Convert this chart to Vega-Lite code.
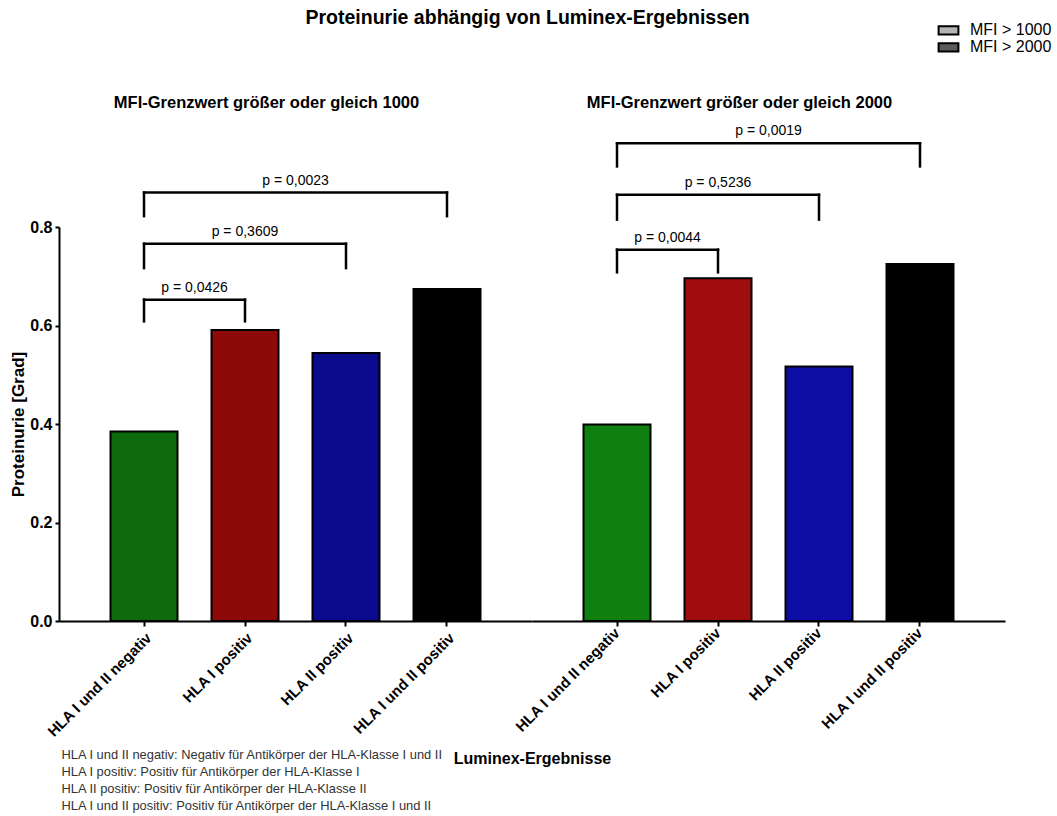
{
  "$schema": "https://vega.github.io/schema/vega-lite/v6.json",
  "background": "white",
  "padding": {"left": 9, "top": 8, "right": 0, "bottom": 0},
  "title": {
    "text": "Proteinurie abhängig von Luminex-Ergebnissen",
    "font": "Liberation Sans",
    "fontSize": 19.5,
    "fontWeight": "bold",
    "color": "black",
    "anchor": "middle",
    "dx": -3,
    "offset": -6.3
  },
  "config": {
    "font": "Liberation Sans",
    "view": {"stroke": null},
    "axis": {
      "labelFont": "Liberation Sans",
      "titleFont": "Liberation Sans",
      "labelColor": "black",
      "titleColor": "black",
      "domainColor": "black",
      "tickColor": "black",
      "domainWidth": 2,
      "tickWidth": 2,
      "grid": false,
      "labelFontWeight": "bold",
      "titleFontWeight": "bold"
    }
  },
  "datasets": {
    "balken": [
      {"MFI": "MFI > 1000", "Ergebnis": "HLA I und II negativ", "Proteinurie": 0.385},
      {"MFI": "MFI > 1000", "Ergebnis": "HLA I positiv", "Proteinurie": 0.591},
      {"MFI": "MFI > 1000", "Ergebnis": "HLA II positiv", "Proteinurie": 0.544},
      {"MFI": "MFI > 1000", "Ergebnis": "HLA I und II positiv", "Proteinurie": 0.674},
      {"MFI": "MFI > 2000", "Ergebnis": "HLA I und II negativ", "Proteinurie": 0.399},
      {"MFI": "MFI > 2000", "Ergebnis": "HLA I positiv", "Proteinurie": 0.696},
      {"MFI": "MFI > 2000", "Ergebnis": "HLA II positiv", "Proteinurie": 0.517},
      {"MFI": "MFI > 2000", "Ergebnis": "HLA I und II positiv", "Proteinurie": 0.725}
    ],
    "klammern": [
      {"MFI": "MFI > 1000", "von": "HLA I und II negativ", "bis": "HLA I positiv", "unten": 0.6085, "oben": 0.6525, "p": "p = 0,0426"},
      {"MFI": "MFI > 1000", "von": "HLA I und II negativ", "bis": "HLA II positiv", "unten": 0.7165, "oben": 0.766, "p": "p = 0,3609"},
      {"MFI": "MFI > 1000", "von": "HLA I und II negativ", "bis": "HLA I und II positiv", "unten": 0.822, "oben": 0.87, "p": "p = 0,0023"},
      {"MFI": "MFI > 2000", "von": "HLA I und II negativ", "bis": "HLA I positiv", "unten": 0.708, "oben": 0.754, "p": "p = 0,0044"},
      {"MFI": "MFI > 2000", "von": "HLA I und II negativ", "bis": "HLA II positiv", "unten": 0.815, "oben": 0.8655, "p": "p = 0,5236"},
      {"MFI": "MFI > 2000", "von": "HLA I und II negativ", "bis": "HLA I und II positiv", "unten": 0.923, "oben": 0.97, "p": "p = 0,0019"}
    ],
    "untertitel": [
      {"MFI": "MFI > 1000", "Titel": "MFI-Grenzwert größer oder gleich 1000"},
      {"MFI": "MFI > 2000", "Titel": "MFI-Grenzwert größer oder gleich 2000"}
    ]
  },
  "spacing": 0,
  "bounds": "flush",
  "resolve": {"scale": {"fill": "independent"}},
  "hconcat": [
    {
      "width": 473,
      "height": 394,
      "layer": [
        {
          "data": {"name": "balken"},
          "transform": [{"filter": "datum.MFI === 'MFI > 1000'"}],
          "mark": {"type": "bar", "stroke": "black", "strokeWidth": 2},
          "encoding": {
            "x": {
              "field": "Ergebnis", "type": "nominal",
              "scale": {"domain": ["HLA I und II negativ", "HLA I positiv", "HLA II positiv", "HLA I und II positiv"], "paddingInner": 0.3366, "paddingOuter": 0.51},
              "axis": {
                "labelAngle": -45, "labelFontSize": 15, "tickSize": 5, "labelPadding": 4,
                "title": [
                  "HLA I und II negativ: Negativ für Antikörper der HLA-Klasse I und II",
                  "HLA I positiv: Positiv für Antikörper der HLA-Klasse I",
                  "HLA II positiv: Positiv für Antikörper der HLA-Klasse II",
                  "HLA I und II positiv: Positiv für Antikörper der HLA-Klasse I und II"
                ],
                "titleFontSize": 12.9, "titleFontWeight": "normal", "titleColor": "#333333",
                "titleAlign": "left", "titleBaseline": "top", "titleX": 2, "titleY": 127, "titleLineHeight": 17.3
              }
            },
            "y": {
              "field": "Proteinurie", "type": "quantitative",
              "scale": {"domain": [0, 0.8], "nice": false},
              "axis": {
                "title": "Proteinurie [Grad]", "titleFontSize": 17, "titlePadding": 2,
                "values": [0, 0.2, 0.4, 0.6, 0.8], "format": ".1f",
                "labelFontSize": 16, "tickSize": 4, "labelPadding": 3
              }
            },
            "fill": {
              "field": "Ergebnis", "type": "nominal",
              "scale": {"domain": ["HLA I und II negativ", "HLA I positiv", "HLA II positiv", "HLA I und II positiv"], "range": ["#0d6b0d", "#8c0a0a", "#0a0a8c", "#000000"]},
              "legend": null
            }
          }
        },
        {
          "data": {"name": "klammern"},
          "transform": [{"filter": "datum.MFI === 'MFI > 1000'"}],
          "mark": {"type": "rule", "strokeWidth": 2.5, "strokeCap": "square", "color": "black"},
          "encoding": {
            "x": {"field": "von", "type": "nominal", "scale": {"domain": ["HLA I und II negativ", "HLA I positiv", "HLA II positiv", "HLA I und II positiv"], "paddingInner": 0.3366, "paddingOuter": 0.51}},
            "y": {"field": "unten", "type": "quantitative", "scale": {"domain": [0, 0.8], "nice": false}},
            "y2": {"field": "oben"}
          }
        },
        {
          "data": {"name": "klammern"},
          "transform": [{"filter": "datum.MFI === 'MFI > 1000'"}],
          "mark": {"type": "rule", "strokeWidth": 2.5, "strokeCap": "square", "color": "black"},
          "encoding": {
            "x": {"field": "bis", "type": "nominal", "scale": {"domain": ["HLA I und II negativ", "HLA I positiv", "HLA II positiv", "HLA I und II positiv"], "paddingInner": 0.3366, "paddingOuter": 0.51}},
            "y": {"field": "unten", "type": "quantitative", "scale": {"domain": [0, 0.8], "nice": false}},
            "y2": {"field": "oben"}
          }
        },
        {
          "data": {"name": "klammern"},
          "transform": [{"filter": "datum.MFI === 'MFI > 1000'"}],
          "mark": {"type": "rule", "strokeWidth": 2.5, "strokeCap": "square", "color": "black"},
          "encoding": {
            "x": {"field": "von", "type": "nominal", "scale": {"domain": ["HLA I und II negativ", "HLA I positiv", "HLA II positiv", "HLA I und II positiv"], "paddingInner": 0.3366, "paddingOuter": 0.51}},
            "x2": {"field": "bis"},
            "y": {"field": "oben", "type": "quantitative", "scale": {"domain": [0, 0.8], "nice": false}}
          }
        },
        {
          "data": {"name": "klammern"},
          "transform": [{"filter": "datum.MFI === 'MFI > 1000' && datum.bis === 'HLA I positiv'"}],
          "mark": {"type": "text", "fontSize": 14, "color": "black", "align": "center", "baseline": "middle", "dy": -12},
          "encoding": {
            "x": {"field": "von", "type": "nominal", "bandPosition": 1.254, "scale": {"domain": ["HLA I und II negativ", "HLA I positiv", "HLA II positiv", "HLA I und II positiv"], "paddingInner": 0.3366, "paddingOuter": 0.51}},
            "y": {"field": "oben", "type": "quantitative", "scale": {"domain": [0, 0.8], "nice": false}},
            "text": {"field": "p"}
          }
        },
        {
          "data": {"name": "klammern"},
          "transform": [{"filter": "datum.MFI === 'MFI > 1000' && datum.bis === 'HLA II positiv'"}],
          "mark": {"type": "text", "fontSize": 14, "color": "black", "align": "center", "baseline": "middle", "dy": -12},
          "encoding": {
            "x": {"field": "von", "type": "nominal", "bandPosition": 2.007, "scale": {"domain": ["HLA I und II negativ", "HLA I positiv", "HLA II positiv", "HLA I und II positiv"], "paddingInner": 0.3366, "paddingOuter": 0.51}},
            "y": {"field": "oben", "type": "quantitative", "scale": {"domain": [0, 0.8], "nice": false}},
            "text": {"field": "p"}
          }
        },
        {
          "data": {"name": "klammern"},
          "transform": [{"filter": "datum.MFI === 'MFI > 1000' && datum.bis === 'HLA I und II positiv'"}],
          "mark": {"type": "text", "fontSize": 14, "color": "black", "align": "center", "baseline": "middle", "dy": -12},
          "encoding": {
            "x": {"field": "von", "type": "nominal", "bandPosition": 2.761, "scale": {"domain": ["HLA I und II negativ", "HLA I positiv", "HLA II positiv", "HLA I und II positiv"], "paddingInner": 0.3366, "paddingOuter": 0.51}},
            "y": {"field": "oben", "type": "quantitative", "scale": {"domain": [0, 0.8], "nice": false}},
            "text": {"field": "p"}
          }
        },
        {
          "data": {"name": "untertitel"},
          "transform": [{"filter": "datum.MFI === 'MFI > 1000'"}],
          "mark": {"type": "text", "fontSize": 16.5, "fontWeight": "bold", "color": "black", "align": "left", "baseline": "middle"},
          "encoding": {
            "x": {"datum": "HLA I und II negativ", "type": "nominal", "bandPosition": 0.05, "scale": {"domain": ["HLA I und II negativ", "HLA I positiv", "HLA II positiv", "HLA I und II positiv"], "paddingInner": 0.3366, "paddingOuter": 0.51}},
            "y": {"datum": 1.052, "type": "quantitative", "scale": {"domain": [0, 0.8], "nice": false}},
            "text": {"field": "Titel"}
          }
        }
      ]
    },
    {
      "width": 473,
      "height": 394,
      "resolve": {"scale": {"fill": "independent"}},
      "layer": [
        {
          "data": {"name": "balken"},
          "transform": [{"filter": "datum.MFI === 'MFI > 2000'"}],
          "mark": {"type": "bar"},
          "encoding": {
            "x": {"field": "Ergebnis", "type": "nominal", "scale": {"domain": ["HLA I und II negativ", "HLA I positiv", "HLA II positiv", "HLA I und II positiv"], "paddingInner": 0.3366, "paddingOuter": 0.51}},
            "y": {"field": "Proteinurie", "type": "quantitative", "scale": {"domain": [0, 0.8], "nice": false}, "axis": null},
            "fill": {
              "field": "MFI", "type": "nominal",
              "scale": {"domain": ["MFI > 1000", "MFI > 2000"], "range": ["#b4b4b4", "#5c5c5c"]},
              "legend": {
                "title": null, "orient": "none", "legendX": 408.5, "legendY": -204.6,
                "symbolType": "M-1.8,-0.75H1.8V0.75H-1.8Z", "symbolSize": 121,
                "symbolStrokeColor": "black", "symbolStrokeWidth": 2,
                "labelFont": "Liberation Sans", "labelFontSize": 16, "labelColor": "black",
                "labelOffset": 13.5, "rowPadding": -2.5
              }
            }
          }
        },
        {
          "data": {"name": "balken"},
          "transform": [{"filter": "datum.MFI === 'MFI > 2000'"}],
          "mark": {"type": "bar", "stroke": "black", "strokeWidth": 2},
          "encoding": {
            "x": {
              "field": "Ergebnis", "type": "nominal",
              "scale": {"domain": ["HLA I und II negativ", "HLA I positiv", "HLA II positiv", "HLA I und II positiv"], "paddingInner": 0.3366, "paddingOuter": 0.51},
              "axis": {
                "labelAngle": -45, "labelFontSize": 15, "tickSize": 5, "labelPadding": 4,
                "title": "Luminex-Ergebnisse", "titleFontSize": 16,
                "titleAlign": "center", "titleBaseline": "middle", "titleX": 0, "titleY": 137
              }
            },
            "y": {"field": "Proteinurie", "type": "quantitative", "scale": {"domain": [0, 0.8], "nice": false}, "axis": null},
            "fill": {
              "field": "Ergebnis", "type": "nominal",
              "scale": {"domain": ["HLA I und II negativ", "HLA I positiv", "HLA II positiv", "HLA I und II positiv"], "range": ["#0f800f", "#a00d0d", "#0d0da6", "#000000"]},
              "legend": null
            }
          }
        },
        {
          "data": {"name": "klammern"},
          "transform": [{"filter": "datum.MFI === 'MFI > 2000'"}],
          "mark": {"type": "rule", "strokeWidth": 2.5, "strokeCap": "square", "color": "black"},
          "encoding": {
            "x": {"field": "von", "type": "nominal", "scale": {"domain": ["HLA I und II negativ", "HLA I positiv", "HLA II positiv", "HLA I und II positiv"], "paddingInner": 0.3366, "paddingOuter": 0.51}},
            "y": {"field": "unten", "type": "quantitative", "scale": {"domain": [0, 0.8], "nice": false}, "axis": null},
            "y2": {"field": "oben"}
          }
        },
        {
          "data": {"name": "klammern"},
          "transform": [{"filter": "datum.MFI === 'MFI > 2000'"}],
          "mark": {"type": "rule", "strokeWidth": 2.5, "strokeCap": "square", "color": "black"},
          "encoding": {
            "x": {"field": "bis", "type": "nominal", "scale": {"domain": ["HLA I und II negativ", "HLA I positiv", "HLA II positiv", "HLA I und II positiv"], "paddingInner": 0.3366, "paddingOuter": 0.51}},
            "y": {"field": "unten", "type": "quantitative", "scale": {"domain": [0, 0.8], "nice": false}, "axis": null},
            "y2": {"field": "oben"}
          }
        },
        {
          "data": {"name": "klammern"},
          "transform": [{"filter": "datum.MFI === 'MFI > 2000'"}],
          "mark": {"type": "rule", "strokeWidth": 2.5, "strokeCap": "square", "color": "black"},
          "encoding": {
            "x": {"field": "von", "type": "nominal", "scale": {"domain": ["HLA I und II negativ", "HLA I positiv", "HLA II positiv", "HLA I und II positiv"], "paddingInner": 0.3366, "paddingOuter": 0.51}},
            "x2": {"field": "bis"},
            "y": {"field": "oben", "type": "quantitative", "scale": {"domain": [0, 0.8], "nice": false}, "axis": null}
          }
        },
        {
          "data": {"name": "klammern"},
          "transform": [{"filter": "datum.MFI === 'MFI > 2000' && datum.bis === 'HLA I positiv'"}],
          "mark": {"type": "text", "fontSize": 14, "color": "black", "align": "center", "baseline": "middle", "dy": -12},
          "encoding": {
            "x": {"field": "von", "type": "nominal", "bandPosition": 1.254, "scale": {"domain": ["HLA I und II negativ", "HLA I positiv", "HLA II positiv", "HLA I und II positiv"], "paddingInner": 0.3366, "paddingOuter": 0.51}},
            "y": {"field": "oben", "type": "quantitative", "scale": {"domain": [0, 0.8], "nice": false}, "axis": null},
            "text": {"field": "p"}
          }
        },
        {
          "data": {"name": "klammern"},
          "transform": [{"filter": "datum.MFI === 'MFI > 2000' && datum.bis === 'HLA II positiv'"}],
          "mark": {"type": "text", "fontSize": 14, "color": "black", "align": "center", "baseline": "middle", "dy": -12},
          "encoding": {
            "x": {"field": "von", "type": "nominal", "bandPosition": 2.007, "scale": {"domain": ["HLA I und II negativ", "HLA I positiv", "HLA II positiv", "HLA I und II positiv"], "paddingInner": 0.3366, "paddingOuter": 0.51}},
            "y": {"field": "oben", "type": "quantitative", "scale": {"domain": [0, 0.8], "nice": false}, "axis": null},
            "text": {"field": "p"}
          }
        },
        {
          "data": {"name": "klammern"},
          "transform": [{"filter": "datum.MFI === 'MFI > 2000' && datum.bis === 'HLA I und II positiv'"}],
          "mark": {"type": "text", "fontSize": 14, "color": "black", "align": "center", "baseline": "middle", "dy": -12},
          "encoding": {
            "x": {"field": "von", "type": "nominal", "bandPosition": 2.761, "scale": {"domain": ["HLA I und II negativ", "HLA I positiv", "HLA II positiv", "HLA I und II positiv"], "paddingInner": 0.3366, "paddingOuter": 0.51}},
            "y": {"field": "oben", "type": "quantitative", "scale": {"domain": [0, 0.8], "nice": false}, "axis": null},
            "text": {"field": "p"}
          }
        },
        {
          "data": {"name": "untertitel"},
          "transform": [{"filter": "datum.MFI === 'MFI > 2000'"}],
          "mark": {"type": "text", "fontSize": 16.5, "fontWeight": "bold", "color": "black", "align": "left", "baseline": "middle"},
          "encoding": {
            "x": {"datum": "HLA I und II negativ", "type": "nominal", "bandPosition": 0.05, "scale": {"domain": ["HLA I und II negativ", "HLA I positiv", "HLA II positiv", "HLA I und II positiv"], "paddingInner": 0.3366, "paddingOuter": 0.51}},
            "y": {"datum": 1.052, "type": "quantitative", "scale": {"domain": [0, 0.8], "nice": false}, "axis": null},
            "text": {"field": "Titel"}
          }
        }
      ]
    }
  ]
}
